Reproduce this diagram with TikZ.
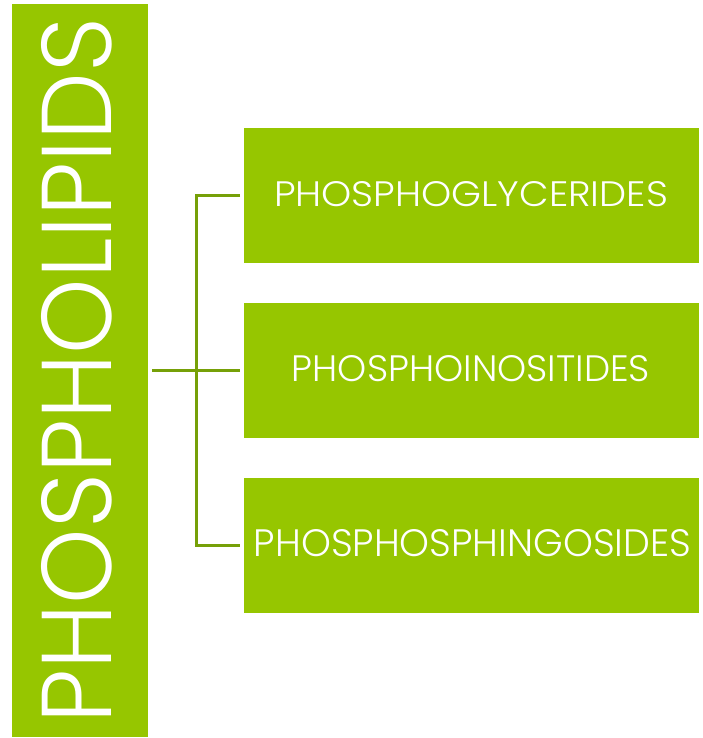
\documentclass[tikz,border=0pt]{standalone}
\usepackage{fontspec}
\setmainfont{Poppins}[UprightFont={* Light}]
\usepackage{graphicx}
\definecolor{leaf}{RGB}{150,198,0}
\definecolor{stem}{RGB}{118,160,8}
\begin{document}
\begin{tikzpicture}[x=1pt,y=-1pt,
  panel/.style={fill=leaf,draw=none},
  label/.style={text=white,inner sep=0pt,anchor=center},
  link/.style={draw=stem,line width=3pt}]
\useasboundingbox (0,0) rectangle (702,738);
% main vertical bar
\path[panel] (12,4) rectangle (148,737);
\node[label,rotate=90] (root) at (77,370.5)
  {\resizebox{705pt}{70pt}{PHOSPHOLIPIDS}};
\coordinate (rootR) at (152,370);
% three category boxes
\path[panel] (244,128) rectangle (699,263);
\path[panel] (244,303) rectangle (699,438);
\path[panel] (244,478) rectangle (699,613);
\node[label] (gly) at (471,194.5) {\resizebox{394pt}{25pt}{PHOSPHOGLYCERIDES}};
\node[label] (ino) at (471,369) {\resizebox{358pt}{26pt}{PHOSPHOINOSITIDES}};
\node[label] (sph) at (472.5,543.5) {\resizebox{437pt}{27pt}{PHOSPHOSPHINGOSIDES}};
\coordinate (a) at (240,195);
\coordinate (b) at (240,370);
\coordinate (c) at (240,545);
\coordinate (spine) at (196,370);
% bracket connectors
\draw[link] (rootR) -- (b);
\draw[link] (a) -| (spine) |- (c);
\end{tikzpicture}
\end{document}
